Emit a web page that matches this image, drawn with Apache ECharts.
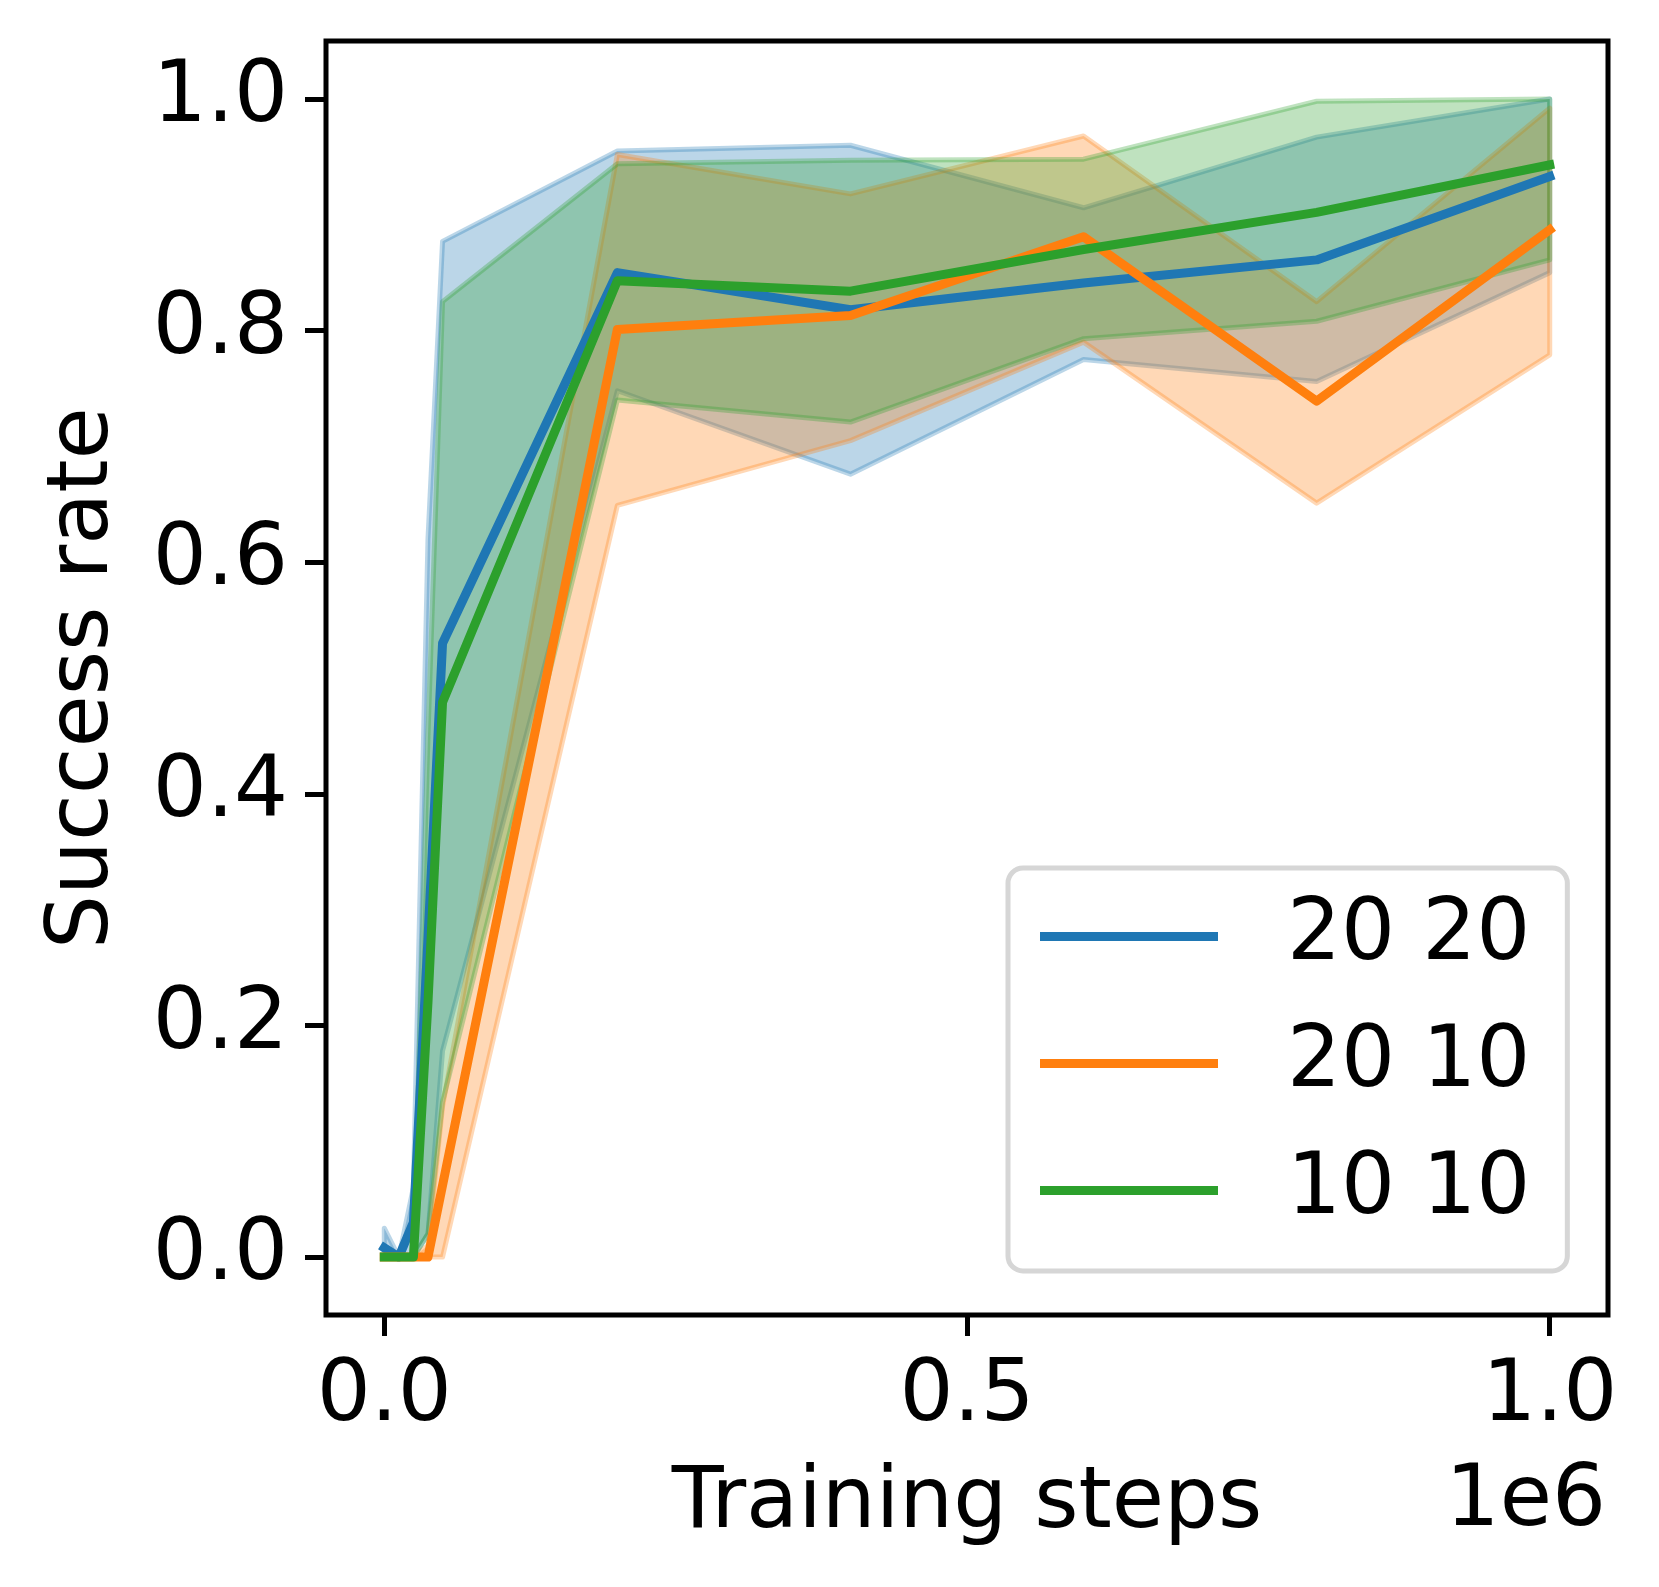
<!DOCTYPE html>
<html>
<head>
<meta charset="utf-8">
<script src="https://cdn.jsdelivr.net/npm/echarts@6/dist/echarts.min.js"></script>
<style>
html,body{margin:0;padding:0;background:#fff;}
#chart{width:1659px;height:1587px;}
</style>
</head>
<body>
<div id="chart"></div>
<script>
// ---- data ----
const steps = [0, 12500, 25000, 37500, 50000, 200000, 400000, 600000, 800000, 1000000];

const seriesNames = ['20 20', '20 10', '10 10'];

const mean2020 = [0.008, 0, 0.03, 0.275, 0.53, 0.850, 0.818, 0.841, 0.861, 0.933];
const low2020  = [0, 0, 0, 0.02, 0.178, 0.748, 0.676, 0.775, 0.756, 0.850];
const high2020 = [0.025, 0, 0.06, 0.62, 0.877, 0.955, 0.960, 0.906, 0.967, 1.0];

const mean2010 = [0, 0, 0, 0, 0.062, 0.801, 0.813, 0.881, 0.739, 0.887];
const low2010  = [0, 0, 0, 0, 0, 0.649, 0.705, 0.790, 0.651, 0.779];
const high2010 = [0, 0, 0, 0.01, 0.13, 0.952, 0.918, 0.968, 0.825, 0.992];

const mean1010 = [0, 0, 0, 0.22, 0.479, 0.843, 0.834, 0.870, 0.902, 0.943];
const low1010  = [0, 0, 0, 0.02, 0.134, 0.740, 0.721, 0.793, 0.808, 0.861];
const high1010 = [0, 0, 0, 0.45, 0.825, 0.944, 0.947, 0.948, 0.998, 1.0];

const yTicks = [0, 0.2, 0.4, 0.6, 0.8, 1.0];
const xTicks = [0, 500000, 1000000];

const colors = ['#1f77b4', '#ff7f0e', '#2ca02c'];
const bandFill = ['rgba(31,119,180,0.3)', 'rgba(255,127,14,0.3)', 'rgba(44,160,44,0.3)'];

const FONT = 'DejaVu Sans';
const FS = 85;

function bandSeries(lo, hi, idx) {
  return {
    type: 'custom',
    silent: true,
    clip: true,
    z: 1,
    data: [0],
    renderItem: function (params, api) {
      if (params.dataIndex !== 0) return null;
      const pts = [];
      for (let i = 0; i < steps.length; i++) pts.push(api.coord([steps[i], hi[i]]));
      for (let i = steps.length - 1; i >= 0; i--) pts.push(api.coord([steps[i], lo[i]]));
      return {
        type: 'polygon',
        shape: { points: pts },
        style: { fill: bandFill[idx], stroke: bandFill[idx], lineWidth: 5, lineJoin: 'round' }
      };
    }
  };
}

function lineSeries(name, mean, idx) {
  return {
    name: name,
    type: 'line',
    z: 3 + idx,
    symbol: 'none',
    silent: true,
    animation: false,
    data: steps.map((s, i) => [s, mean[i]]),
    lineStyle: { color: colors[idx], width: 9, cap: 'square', join: 'round' },
    itemStyle: { color: colors[idx] }
  };
}

const chart = echarts.init(document.getElementById('chart'), null, { renderer: 'canvas' });
chart.setOption({
  animation: false,
  backgroundColor: '#fff',
  textStyle: { fontFamily: FONT },
  grid: {
    left: 326, top: 41, right: 51, bottom: 272,
    show: true, borderColor: '#000', borderWidth: 5, backgroundColor: 'transparent'
  },
  xAxis: {
    type: 'value',
    min: -50000, max: 1050000,
    splitLine: { show: false },
    axisLine: { show: false, onZero: false },
    axisTick: { show: true, length: 21, lineStyle: { color: '#000', width: 5 }, customValues: xTicks },
    axisLabel: {
      show: true, customValues: xTicks, margin: 40,
      fontSize: FS, fontFamily: FONT, color: '#000', lineHeight: 85,
      formatter: v => (v / 1e6).toFixed(1)
    },
    name: 'Training steps',
    nameLocation: 'middle',
    nameGap: 147,
    nameTextStyle: { fontSize: FS, fontFamily: FONT, color: '#000' }
  },
  yAxis: {
    type: 'value',
    min: -0.05, max: 1.05,
    splitLine: { show: false },
    axisLine: { show: false, onZero: false },
    axisTick: { show: true, length: 21, lineStyle: { color: '#000', width: 5 }, customValues: yTicks },
    axisLabel: {
      show: true, customValues: yTicks, margin: 38,
      fontSize: FS, fontFamily: FONT, color: '#000',
      formatter: v => v.toFixed(1)
    },
    name: 'Success rate',
    nameLocation: 'middle',
    nameGap: 199,
    nameTextStyle: { fontSize: FS, fontFamily: FONT, color: '#000' }
  },
  legend: {
    data: seriesNames,
    orient: 'vertical',
    left: 1008, top: 868,
    icon: 'rect',
    itemWidth: 178, itemHeight: 9,
    itemGap: 10,
    padding: [10, 37, 22, 32],
    borderColor: '#d6d6d6', borderWidth: 5, borderRadius: 15,
    backgroundColor: 'rgba(255,255,255,0.8)',
    selectedMode: false,
    z: 10,
    textStyle: { fontSize: FS, fontFamily: FONT, color: '#000', lineHeight: 90, padding: [27, 0, 0, 64] }
  },
  graphic: [{
    type: 'text',
    right: 53,
    top: 1460,
    style: { text: '1e6', fontSize: FS, fontFamily: FONT, fill: '#000' }
  }],
  series: [
    bandSeries(low2020, high2020, 0),
    bandSeries(low2010, high2010, 1),
    bandSeries(low1010, high1010, 2),
    lineSeries(seriesNames[0], mean2020, 0),
    lineSeries(seriesNames[1], mean2010, 1),
    lineSeries(seriesNames[2], mean1010, 2)
  ]
});
</script>
</body>
</html>
